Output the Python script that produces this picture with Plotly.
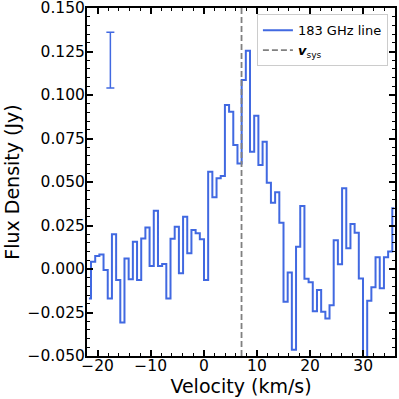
import plotly.graph_objects as go

# Channel velocities (km/s) and flux densities (Jy)
velocity = [
    -21.64, -20.85, -20.06, -19.28, -18.49, -17.70, -16.91, -16.12, -15.34, -14.55,
    -13.76, -12.97, -12.18, -11.40, -10.61, -9.82, -9.03, -8.24, -7.46, -6.67,
    -5.88, -5.09, -4.30, -3.52, -2.73, -1.94, -1.15, -0.36, 0.42, 1.21,
    2.00, 2.79, 3.58, 4.36, 5.15, 5.94, 6.73, 7.52, 8.30, 9.09,
    9.88, 10.67, 11.46, 12.24, 13.03, 13.82, 14.61, 15.40, 16.18, 16.97,
    17.76, 18.55, 19.34, 20.12, 20.91, 21.70, 22.49, 23.28, 24.06, 24.85,
    25.64, 26.43, 27.22, 28.00, 28.79, 29.58, 30.37, 31.16, 31.94, 32.73,
    33.52, 34.31, 35.10, 35.88,
]
flux = [
    -0.0169, 0.0042, 0.0075, 0.0084, -0.0006, -0.0169, 0.0199, -0.0063, -0.0307, 0.0061,
    -0.0059, 0.0157, -0.0063, 0.0176, 0.0238, 0.0017, 0.0335, 0.0017, 0.0029, -0.0169,
    0.0174, 0.0243, -0.0025, 0.0301, 0.0090, 0.0224, 0.0205, 0.0171, -0.0063, 0.0559,
    0.0412, 0.0521, 0.0534, 0.0943, 0.0904, 0.0713, 0.0607, 0.1086, 0.1255, 0.0674,
    0.0881, 0.0598, 0.0732, 0.0496, 0.0381, 0.0441, 0.0266, -0.0188, -0.0020, -0.0464,
    0.0128, 0.0362, -0.0056, -0.0076, -0.0243, -0.0120, -0.0245, -0.0284, -0.0209, 0.0165,
    0.0028, 0.0464, 0.0119, 0.0259, 0.0209, -0.0054, -0.0600, -0.0182, -0.0105, 0.0067,
    -0.0111, 0.0067, 0.0100, 0.0349,
]

v_sys = 7.1
errbar_x = [-17.6]
errbar_y = [0.120]
errbar_half = [0.016]

x_range = [-22, 36]
y_range = [-0.05, 0.15]

blue = "#4169E1"
gray = "#808080"
font = "DejaVu Sans"

fig = go.Figure()
fig.add_trace(go.Scatter(
    x=velocity, y=flux, mode="lines", line=dict(shape="hvh", color=blue, width=2),
    name="183 GHz line",
))
fig.add_trace(go.Scatter(
    x=[v_sys, v_sys], y=y_range, mode="lines",
    line=dict(color=gray, width=1.8, dash="6px,3px"),
    name="<b><i>v</i></b><sub>sys</sub>",
))
fig.add_trace(go.Scatter(
    x=errbar_x, y=errbar_y, mode="lines", line=dict(color=blue, width=0),
    error_y=dict(type="data", array=errbar_half, color=blue, thickness=1.5, width=4),
    showlegend=False,
))

axis_common = dict(
    showline=True, linecolor="black", linewidth=2, mirror="allticks",
    ticks="inside", ticklen=6, tickwidth=1.5, tickcolor="black",
    showgrid=False, zeroline=False, ticklabeloverflow="allow",
    tickfont=dict(family=font, size=15.5, color="black"),
)
fig.update_xaxes(
    range=x_range, dtick=10, tick0=0,
    minor=dict(ticks="inside", ticklen=3, tickwidth=1, dtick=2, tickcolor="black"),
    title=dict(text="Velocity (km/s)", font=dict(family=font, size=19, color="black"), standoff=2),
    ticklabelstandoff=-6,
    **axis_common,
)
fig.update_yaxes(
    range=[y_range[0] - 1e-7, y_range[1] + 1e-7], dtick=0.025, tick0=0, tickformat=".3f",
    minor=dict(ticks="inside", ticklen=3, tickwidth=1, dtick=0.005, tickcolor="black"),
    title=dict(text="Flux Density (Jy)", font=dict(family=font, size=19, color="black"), standoff=3),
    ticklabelstandoff=-3,
    **axis_common,
)
fig.update_layout(
    width=399, height=399,
    margin=dict(l=87, r=4, t=8, b=43, autoexpand=False),
    plot_bgcolor="white", paper_bgcolor="white",
    font=dict(family=font, color="black"),
    legend=dict(
        x=0.977, y=0.982, xanchor="right", yanchor="top",
        bgcolor="rgba(255,255,255,0.8)", bordercolor="#cccccc", borderwidth=1,
        font=dict(family=font, size=13, color="black"),
        itemwidth=30, tracegroupgap=0,
    ),
)
fig.write_html("out.html", config={"displayModeBar": False},
               post_script="document.body.style.margin='0px';")
